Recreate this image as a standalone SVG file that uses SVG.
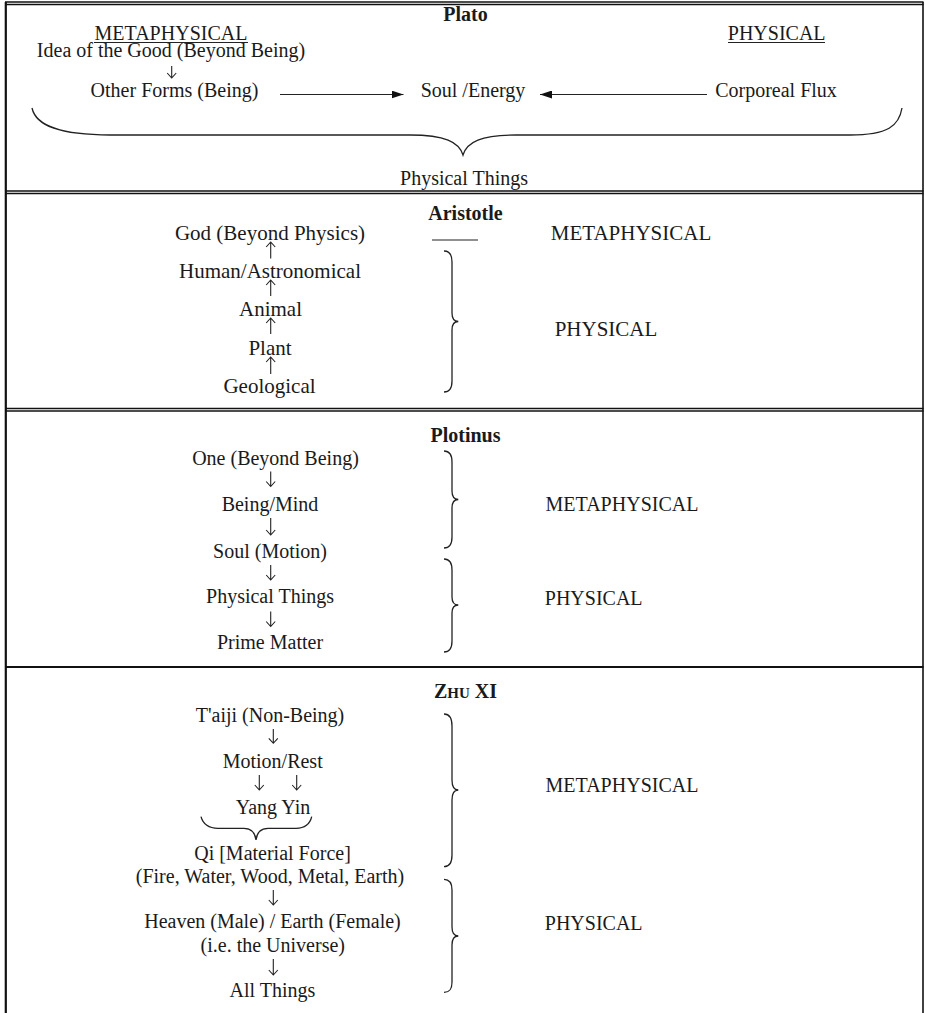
<svg xmlns="http://www.w3.org/2000/svg" width="925" height="1013" viewBox="0 0 925 1013">
<style>
text{font-family:"Liberation Serif","Times New Roman",serif;fill:#1a1a1a}
.t{font-size:20px;text-anchor:middle}
.t21{font-size:21px;text-anchor:middle}
.l{font-size:20px}
.b{font-size:20px;font-weight:bold;text-anchor:middle}
.frame{stroke:#111;fill:none}
.br{stroke:#222;stroke-width:1.3;fill:none}
.ar{stroke:#222;stroke-width:1.1;fill:none}
.ul{stroke:#222;stroke-width:1.1}
</style>
<defs>
<marker id="tri" markerWidth="12" markerHeight="8" refX="12" refY="4" orient="auto" markerUnits="userSpaceOnUse">
<path d="M0,0 L12,4 L0,8 Z" fill="#111"/>
</marker>
</defs>
<rect width="925" height="1013" fill="#fff"/>
<g id="frame" class="frame">
<line x1="5" y1="2" x2="923.5" y2="2" stroke-width="1.3"/>
<line x1="5" y1="4.5" x2="923.5" y2="4.5" stroke-width="1.3"/>
<line x1="5.8" y1="2" x2="5.8" y2="1013" stroke-width="2.2"/>
<line x1="923" y1="2" x2="923" y2="1013" stroke-width="1.6"/>
<line x1="5" y1="191" x2="923.5" y2="191" stroke-width="1.3"/>
<line x1="5" y1="193.5" x2="923.5" y2="193.5" stroke-width="1.3"/>
<line x1="5" y1="408.5" x2="923.5" y2="408.5" stroke-width="1.3"/>
<line x1="5" y1="411" x2="923.5" y2="411" stroke-width="1.3"/>
<line x1="5" y1="667" x2="923.5" y2="667" stroke-width="2.2"/>
</g>

<g id="plato">
<text class="b" x="465.5" y="21">Plato</text>
<g id="plato-metaphysical"><text class="t" x="171" y="40">METAPHYSICAL</text><line class="ul" x1="94" y1="42.5" x2="248" y2="42.5"/></g>
<g id="plato-physical"><text class="t" x="776.7" y="40">PHYSICAL</text><line class="ul" x1="728" y1="42.5" x2="825" y2="42.5"/></g>
<g id="idea-good"><text class="t" x="171" y="57">Idea of the Good (Beyond Being)</text></g>
<g id="other-forms"><text class="t" x="174.5" y="97">Other Forms (Being)</text></g>
<g id="soul-energy"><text class="t" x="473" y="97">Soul /Energy</text></g>
<g id="corporeal-flux"><text class="t" x="776" y="97">Corporeal Flux</text></g>
<g id="plato-physical-things"><text class="t" x="464" y="185">Physical Things</text></g>
<path class="br" d="M32,108 C36,126 60,135 110,135 L410,135 C445,135 459,142 463,155 C467,142 481,135 516,135 L850,135 C888,135 899,126 902,108"/>
</g>

<g id="aristotle">
<text class="b" x="465.5" y="220">Aristotle</text>
<line class="ul" x1="432" y1="240" x2="478" y2="240"/>
<g id="god"><text class="t21" x="270" y="240">God (Beyond Physics)</text></g>
<g id="human"><text class="t21" x="270" y="277.7">Human/Astronomical</text></g>
<g id="animal"><text class="t21" x="270.5" y="316">Animal</text></g>
<g id="plant"><text class="t21" x="270" y="354.5">Plant</text></g>
<g id="geological"><text class="t21" x="269.5" y="393">Geological</text></g>
<g id="ari-metaphysical"><text class="t21" x="631" y="240">METAPHYSICAL</text></g>
<g id="ari-physical"><text class="t21" x="606" y="335.7">PHYSICAL</text></g>
<path class="br" d="M444,251 C450,251 452,255 452,262 L452,313 C452,318 454,321.5 458.3,321.5 C454,321.5 452,325 452,330 L452,381 C452,388 450,392 444,392"/>
</g>

<g id="plotinus">
<text class="b" x="465.5" y="441.7">Plotinus</text>
<g id="one"><text class="t" x="275.5" y="465">One (Beyond Being)</text></g>
<g id="being-mind"><text class="t" x="270" y="510.5">Being/Mind</text></g>
<g id="soul-motion"><text class="t" x="270" y="557.5">Soul (Motion)</text></g>
<g id="plo-physical-things"><text class="t" x="270" y="603.3">Physical Things</text></g>
<g id="prime-matter"><text class="t" x="270" y="649.3">Prime Matter</text></g>
<g id="plo-metaphysical"><text class="t" x="622" y="511">METAPHYSICAL</text></g>
<g id="plo-physical"><text class="t" x="593.7" y="605">PHYSICAL</text></g>
<path class="br" d="M444,451 C450,451 452,455 452,462 L452,491 C452,496 454,499.5 458.3,499.5 C454,499.5 452,503 452,508 L452,537 C452,544 450,548 444,548"/>
<path class="br" d="M444,559 C450,559 452,563 452,570 L452,597 C452,602 454,605 458.3,605 C454,605 452,608 452,613 L452,641 C452,648 450,652 444,652"/>
</g>

<g id="zhuxi">
<text class="b" x="465.5" y="698.3">Z<tspan font-size="15">HU</tspan> XI</text>
<g id="taiji"><text class="t" x="270" y="721.7">T'aiji (Non-Being)</text></g>
<g id="motion-rest"><text class="t" x="272.7" y="768.3">Motion/Rest</text></g>
<g id="yang-yin"><text class="t" x="273" y="814.3">Yang Yin</text></g>
<g id="qi"><text class="t" x="272.5" y="860">Qi [Material Force]</text></g>
<g id="elements"><text class="t" x="270" y="882.7">(Fire, Water, Wood, Metal, Earth)</text></g>
<g id="heaven-earth"><text class="t" x="272.5" y="928.3">Heaven (Male) / Earth (Female)</text></g>
<g id="universe"><text class="t" x="272.8" y="951.7">(i.e. the Universe)</text></g>
<g id="all-things"><text class="t" x="272.5" y="996.7">All Things</text></g>
<g id="zhu-metaphysical"><text class="t" x="622" y="791.7">METAPHYSICAL</text></g>
<g id="zhu-physical"><text class="t" x="593.7" y="930">PHYSICAL</text></g>
<path class="br" d="M201,816.7 C203,824 208,828.3 218,828.3 L244,828.3 C251,828.3 255,832 256,840 C257,832 261,828.3 268,828.3 L296,828.3 C305,828.3 310,824 311.7,816.7"/>
<path class="br" d="M444,714 C450,714 452,718 452,726 L452,780 C452,786 454,790 458.3,790 C454,790 452,794 452,800 L452,855 C452,862 450,866.7 444,866.7"/>
<path class="br" d="M444,879.3 C450,879.3 452,883 452,890 L452,927 C452,932 454,936 458.3,936 C454,936 452,940 452,945 L452,982 C452,989 450,992.3 444,992.3"/>
</g>

<g id="connectors" class="ar">
<line x1="280" y1="94.5" x2="403.5" y2="94.5" marker-end="url(#tri)"/>
<line x1="707" y1="94.5" x2="540" y2="94.5" marker-end="url(#tri)"/>
<path d="M171.7,66 V78 M167.2,73 L171.7,78 L176.2,73"/>
<path d="M270.7,258.5 V242 M266.2,247 L270.7,242 L275.2,247"/>
<path d="M270.7,296 V280 M266.2,285 L270.7,280 L275.2,285"/>
<path d="M270.7,334 V318 M266.2,323 L270.7,318 L275.2,323"/>
<path d="M270.7,374 V357 M266.2,362 L270.7,357 L275.2,362"/>
<path d="M270.7,471.5 V486.5 M266.2,481.5 L270.7,486.5 L275.2,481.5"/>
<path d="M270.7,518 V535 M266.2,530 L270.7,535 L275.2,530"/>
<path d="M270.7,565 V580 M266.2,575 L270.7,580 L275.2,575"/>
<path d="M270.7,611.5 V626.5 M266.2,621.5 L270.7,626.5 L275.2,621.5"/>
<path d="M273.3,729 V743.3 M268.8,738.3 L273.3,743.3 L277.8,738.3"/>
<path d="M259.3,775 V790 M254.8,785 L259.3,790 L263.8,785"/>
<path d="M296.7,775 V790 M292.2,785 L296.7,790 L301.2,785"/>
<path d="M273.3,890 V905 M268.8,900 L273.3,905 L277.8,900"/>
<path d="M273.3,959 V975 M268.8,970 L273.3,975 L277.8,970"/>
</g>
</svg>
